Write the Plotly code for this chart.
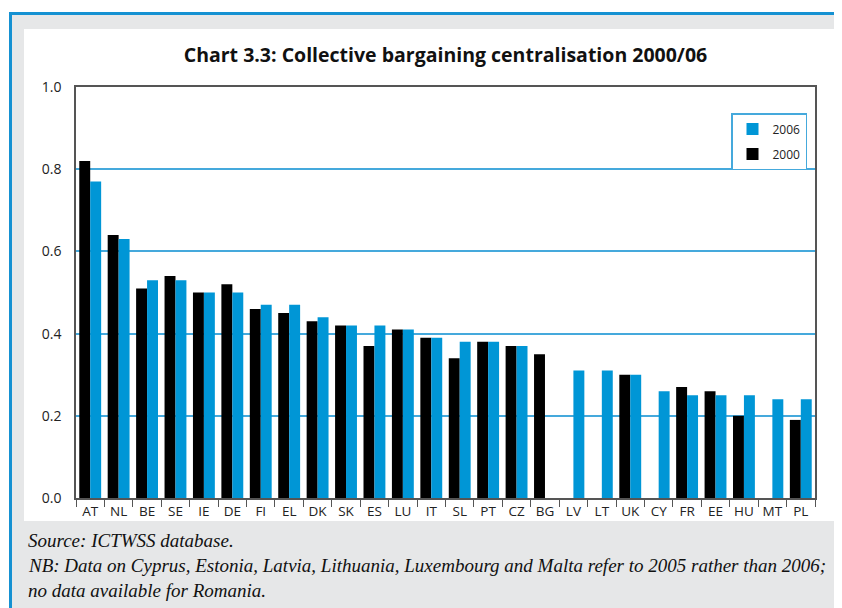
import plotly.graph_objects as go

# data
countries = ["AT", "NL", "BE", "SE", "IE", "DE", "FI", "EL", "DK", "SK", "ES", "LU", "IT",
             "SL", "PT", "CZ", "BG", "LV", "LT", "UK", "CY", "FR", "EE", "HU", "MT", "PL"]
y2000 = [0.82, 0.64, 0.51, 0.54, 0.50, 0.52, 0.46, 0.45, 0.43, 0.42, 0.37, 0.41, 0.39,
         0.34, 0.38, 0.37, 0.35, None, None, 0.30, None, 0.27, 0.26, 0.20, None, 0.19]
y2006 = [0.77, 0.63, 0.53, 0.53, 0.50, 0.50, 0.47, 0.47, 0.44, 0.42, 0.42, 0.41, 0.39,
         0.38, 0.38, 0.37, None, 0.31, 0.31, 0.30, 0.26, 0.25, 0.25, 0.25, 0.24, 0.24]
yticks = [0.0, 0.2, 0.4, 0.6, 0.8, 1.0]

BLACK = "#000000"
BLUE = "#0096d6"
GRID = "#45a9dc"
PANEL = "#e6e7e8"

# page body has an 8px margin, so the figure sits 8px in from the window corner
OFF = 8
W, H = 842, 608
# plot area in window pixels: x 76..815, y 87..498
L, R, T, B = 76 - OFF, 815 - OFF, 87 - OFF, 498 - OFF


def px(x):
    # window pixel -> paper x
    return (x - OFF - L) / (R - L)


def py(y):
    return (B - (y - OFF)) / (B - T)


fig = go.Figure()
fig.add_trace(go.Bar(x=countries, y=y2000, name="2000", marker_color=BLACK,
                     marker_line_width=0, legendgroup="g2000", legendrank=2))
fig.add_trace(go.Bar(x=countries, y=y2006, name="2006", marker_color=BLUE,
                     marker_line_width=0, legendgroup="g2006", legendrank=1))

shapes = [
    # grey outer panel
    dict(type="rect", xref="paper", yref="paper", x0=px(9), x1=px(W + 10), y0=py(H + 10), y1=py(12),
         fillcolor=PANEL, line_width=0, layer="below"),
    # white chart panel
    dict(type="rect", xref="paper", yref="paper", x0=px(24), x1=px(839), y0=py(521), y1=py(29),
         fillcolor="white", line_width=0, layer="below"),
    # blue border lines top and left
    dict(type="line", xref="paper", yref="paper", x0=px(9), x1=px(W + 10), y0=py(13.5), y1=py(13.5),
         line=dict(color="#1591d2", width=3), layer="below"),
    dict(type="line", xref="paper", yref="paper", x0=px(10.5), x1=px(10.5), y0=py(12), y1=py(H + 10),
         line=dict(color="#1591d2", width=3), layer="below"),
]

notes = [
    "Source: ICTWSS database.",
    "NB: Data on Cyprus, Estonia, Latvia, Lithuania, Luxembourg and Malta refer to 2005 rather than 2006;",
    "no data available for Romania.",
]
ann = []
for i, t in enumerate(notes):
    ann.append(dict(text=t, xref="paper", yref="paper", x=px(26), y=py(540 + i * 25),
                    xanchor="left", yanchor="middle", showarrow=False,
                    font=dict(family="Liberation Serif", size=19, color="#111111", style="italic")))

fig.update_layout(
    width=W, height=H,
    margin=dict(l=L, r=W - R, t=T, b=H - B),
    paper_bgcolor="white",
    plot_bgcolor="rgba(0,0,0,0)",
    barmode="group",
    bargap=0.23,
    bargroupgap=0,
    title=dict(text="<b>Chart 3.3: Collective bargaining centralisation 2000/06</b>",
               x=0.5, xref="paper", xanchor="center", y=1 - (55 - OFF) / H, yref="container",
               yanchor="middle",
               font=dict(family="Open Sans", size=19.5, color="#111111")),
    font=dict(family="Open Sans", size=14, color="#222222"),
    xaxis=dict(showline=True, linecolor="#555555", linewidth=1.5, mirror=True,
               ticks="outside", tickson="boundaries", ticklen=7, tickcolor="#555555",
               tickangle=0, tickfont=dict(size=13.5), showgrid=False),
    yaxis=dict(range=[0, 1.0], tickvals=yticks, tickformat=".1f", showline=True,
               linecolor="#555555", linewidth=1.5, mirror=True, ticks="",
               showgrid=True, gridcolor=GRID, gridwidth=1.5, zeroline=False,
               tickfont=dict(size=14), ticklabelstandoff=10),
    legend=dict(x=px(731), y=py(113), xanchor="left", yanchor="top",
                bordercolor=GRID, borderwidth=1.5, bgcolor="white",
                traceorder="grouped", tracegroupgap=6,
                font=dict(size=12), itemwidth=30),
    shapes=shapes,
    annotations=ann,
    showlegend=True,
)

fig.write_html("out.html")
